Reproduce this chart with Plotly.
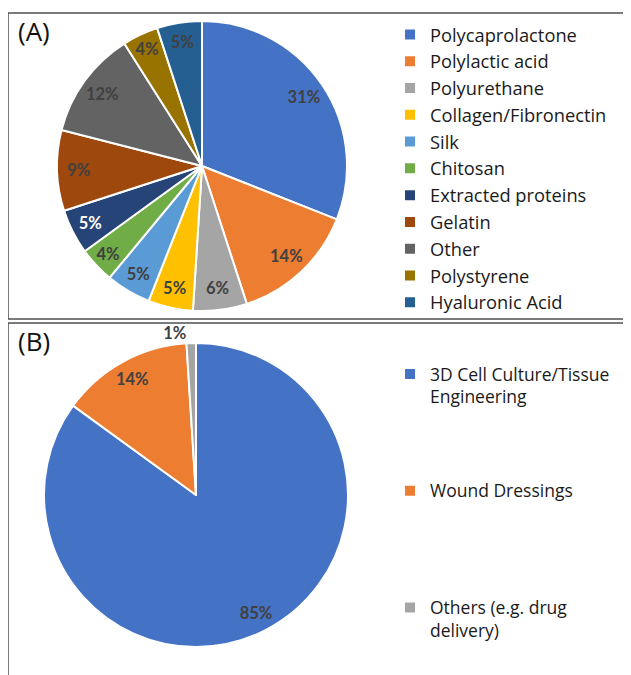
import plotly.graph_objects as go

# page is drawn with an 8px body margin; work in window pixels
OFF = 8
W, H = 631 - OFF, 675 - OFF

# Panel A data
materials = ["Polycaprolactone", "Polylactic acid", "Polyurethane", "Collagen/Fibronectin",
             "Silk", "Chitosan", "Extracted proteins", "Gelatin", "Other",
             "Polystyrene", "Hyaluronic Acid"]
material_share = [31, 14, 6, 5, 5, 4, 5, 9, 12, 4, 5]
material_colors = ["#4472C4", "#ED7D31", "#A5A5A5", "#FFC000", "#5B9BD5", "#70AD47",
                   "#264478", "#9E480E", "#636363", "#997300", "#255E91"]
material_text_colors = ["#404040"] * 6 + ["#FFFFFF"] + ["#404040"] * 4

# Panel B data
applications = ["3D Cell Culture/Tissue<br>Engineering<br> <br> <br> ",
                "Wound Dressings<br> <br> <br> <br> ",
                "Others (e.g. drug<br>delivery)"]
application_share = [85, 14, 1]
application_colors = ["#4472C4", "#ED7D31", "#A5A5A5"]

LABEL_FONT = dict(family="Lato", size=16.5, weight="bold")
TRANSPARENT = "rgba(0,0,0,0)"


def px_x(v):
    return (v - OFF) / W


def px_y(v):
    return 1 - (v - OFF) / H


domA = dict(x=[px_x(57), px_x(347)], y=[px_y(311), px_y(21)])
domB = dict(x=[px_x(44), px_x(348)], y=[px_y(647), px_y(343)])

fig = go.Figure()

# Panel A: slices
fig.add_trace(go.Pie(
    labels=materials, values=material_share, sort=False, direction="clockwise",
    rotation=0, marker=dict(colors=material_colors, line=dict(color="white", width=2)),
    textinfo="none", domain=domA, legend="legend", hoverinfo="label+percent",
))
# Panel A: percentage labels (ring overlay so labels sit near the rim)
fig.add_trace(go.Pie(
    labels=materials, values=material_share, sort=False, direction="clockwise",
    rotation=0, hole=0.7, showlegend=False, hoverinfo="skip",
    marker=dict(colors=[TRANSPARENT] * len(materials), line=dict(width=0)),
    textinfo="percent", textposition="inside", insidetextorientation="horizontal",
    textfont=dict(color=material_text_colors, **LABEL_FONT),
    domain=domA, legend="legend",
))

# Panel B: slices (+ outside label for the tiny slice)
fig.add_trace(go.Pie(
    labels=applications, values=application_share, sort=False, direction="clockwise",
    rotation=0, marker=dict(colors=application_colors, line=dict(color="white", width=2)),
    textinfo="percent", textposition=["none", "none", "outside"],
    outsidetextfont=dict(color="#404040", **LABEL_FONT),
    domain=domB, legend="legend2", hoverinfo="label+percent",
))
fig.add_trace(go.Pie(
    labels=applications, values=application_share, sort=False, direction="clockwise",
    rotation=0, hole=0.74, showlegend=False, hoverinfo="skip",
    marker=dict(colors=[TRANSPARENT] * 3, line=dict(width=0)),
    textinfo="percent", textposition=["inside", "inside", "none"],
    insidetextorientation="horizontal",
    textfont=dict(color="#404040", **LABEL_FONT),
    domain=domB, legend="legend2",
))

fig.update_layout(
    width=W, height=H,
    margin=dict(l=0, r=0, t=0, b=0),
    paper_bgcolor="white", plot_bgcolor="white",
    font=dict(family="Open Sans", color="#1a1a1a"),
    legend=dict(x=px_x(390), y=px_y(16), xanchor="left", yanchor="top",
                font=dict(family="Open Sans", size=18.3, color="#1a1a1a"),
                bgcolor="rgba(0,0,0,0)"),
    legend2=dict(x=px_x(390), y=px_y(356), xanchor="left", yanchor="top",
                 font=dict(family="Open Sans", size=17.5, color="#1a1a1a"),
                 valign="top", bgcolor="rgba(0,0,0,0)"),
    shapes=[
        dict(type="rect", xref="paper", yref="paper", x0=px_x(8), x1=px_x(660),
             y0=px_y(319), y1=px_y(13), line=dict(color="#505050", width=1.5)),
        dict(type="rect", xref="paper", yref="paper", x0=px_x(8), x1=px_x(700),
             y0=px_y(720), y1=px_y(323), line=dict(color="#505050", width=1.5)),
    ],
    annotations=[
        dict(text="(A)", x=px_x(16), y=px_y(31), xref="paper", yref="paper",
             xanchor="left", yanchor="middle", showarrow=False,
             font=dict(family="Open Sans", size=26, color="#111111")),
        dict(text="(B)", x=px_x(16), y=px_y(341), xref="paper", yref="paper",
             xanchor="left", yanchor="middle", showarrow=False,
             font=dict(family="Open Sans", size=26, color="#111111")),
    ],
)

fig.write_html("out.html")
